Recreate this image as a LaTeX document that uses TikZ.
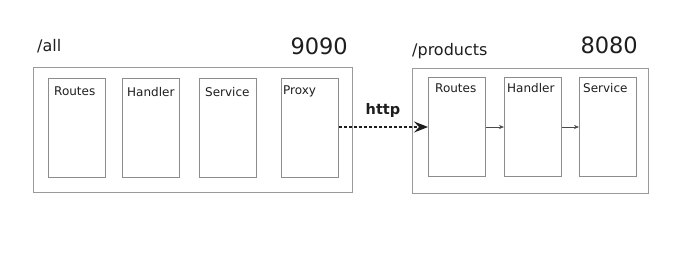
\documentclass[tikz,border=0pt]{standalone}
\usepackage{fontspec}
\setmainfont{DejaVu Sans}
\usetikzlibrary{arrows.meta}
\definecolor{frame}{HTML}{9A9A9A}
\definecolor{inner}{HTML}{8C8C8C}
\definecolor{ink}{HTML}{1E1E1E}
\begin{document}
\begin{tikzpicture}[x=1pt,y=-1pt,
  outerbox/.style={draw=frame,line width=1pt},
  layerbox/.style={draw=inner,line width=0.9pt},
  layertext/.style={text=ink,font=\fontsize{12}{14}\selectfont,anchor=west,inner sep=0pt},
  pathtext/.style={text=ink,font=\fontsize{16}{18}\selectfont,anchor=west,inner sep=0pt},
  porttext/.style={text=ink,font=\fontsize{22.5}{24}\selectfont,anchor=east,inner sep=0pt},
  callarrow/.style={draw=ink,line width=1.1pt,dash pattern=on 3pt off 2pt,-{Stealth[length=14pt,width=11pt,inset=5pt]}},
  steparrow/.style={draw=ink!80,line width=0.6pt,-{Stealth[length=5pt,width=4pt]}}]
\useasboundingbox (0,0) rectangle (698,255);
\fill[white] (0,0) rectangle (698,255);

% gateway service on port 9090
\node[outerbox,minimum width=319pt,minimum height=125pt,inner sep=0pt,anchor=north west] (gw) at (33,67) {};
\node[pathtext] (gwpath) at (37,46) {/all};
\node[porttext] (gwport) at (348,46) {9090};
\foreach \name/\xl/\lbl in {gwr/48/Routes,gwh/122/Handler,gws/199/Service,gwp/281/Proxy}{
  \node[layerbox,minimum width=57pt,minimum height=99pt,inner sep=0pt,anchor=north west] (\name) at (\xl,78) {};
}
\node[layertext] (gwrt) at (54,91) {Routes};
\node[layertext] (gwht) at (127,92) {Handler};
\node[layertext] (gwst) at (205,92) {Service};
\node[layertext] (gwpt) at (283,91) {Proxy};

% products service on port 8080
\node[outerbox,minimum width=236pt,minimum height=125pt,inner sep=0pt,anchor=north west] (pr) at (412,68) {};
\node[pathtext] (prpath) at (412,51) {/products};
\node[porttext] (prport) at (638,45) {8080};
\foreach \name/\xl in {prr/428,prh/504,prs/579}{
  \node[layerbox,minimum width=57pt,minimum height=99pt,inner sep=0pt,anchor=north west] (\name) at (\xl,77) {};
}
\node[layertext] (prrt) at (435,88) {Routes};
\node[layertext] (prht) at (507,88) {Handler};
\node[layertext] (prst) at (583,88) {Service};

% calls between the layers
\draw[callarrow] (gwp.east |- 0,127) -- (prr.west |- 0,127);
\node[text=ink,font=\bfseries\fontsize{14.5}{16}\selectfont,inner sep=0pt] (http) at (383,110) {http};
\draw[steparrow] (prr.east |- 0,127) -- (prh.west |- 0,127);
\draw[steparrow] (prh.east |- 0,127) -- (prs.west |- 0,127);
\end{tikzpicture}
\end{document}
